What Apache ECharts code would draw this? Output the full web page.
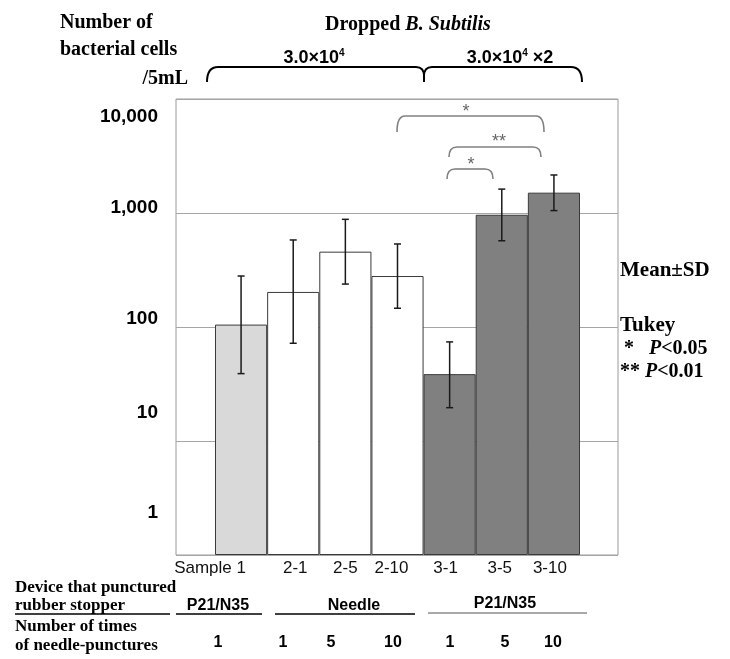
<!DOCTYPE html>
<html>
<head>
<meta charset="utf-8">
<script src="https://cdn.jsdelivr.net/npm/echarts@6/dist/echarts.min.js"></script>
<style>html,body{margin:0;padding:0;background:#fff;}#c{width:730px;height:659px;}</style>
</head>
<body>
<div id="c"></div>
<script>
// ---- data ----
const categories = ['Sample 1', '2-1', '2-5', '2-10', '3-1', '3-5', '3-10'];
const means = [105, 203, 458, 280, 38.6, 965, 1508];
const sdLow = [39, 72, 238, 146, 19.6, 571, 1050];
const sdHigh = [280, 580, 880, 535, 74, 1620, 2155];
const yTickLabels = ['1', '10', '100', '1,000', '10,000'];
const deviceRow = ['P21/N35', 'Needle', 'P21/N35'];
const punctureCounts = ['1', '1', '5', '10', '1', '5', '10'];

// ---- styles ----
const barFills = ['#d9d9d9', '#ffffff', '#ffffff', '#ffffff', '#808080', '#808080', '#808080'];
const catLabelShift = [-31, 2, 0, -6, -4, -2, -4];
const yLabelShift = { '1': -42, '10': -28, '100': -8, '1,000': -5, '10,000': 18 };
const SERIF = '"Liberation Serif", "Times New Roman", serif';
const SANS = '"Liberation Sans", Arial, sans-serif';

function fmt(v) {
  return String(Math.round(v)).replace(/\B(?=(\d{3})+(?!\d))/g, ',');
}
const yRich = {};
yTickLabels.forEach((t, i) => {
  const d = yLabelShift[t];
  yRich['y' + i] = {
    fontFamily: SANS, fontWeight: 'bold', fontSize: 19, color: '#000',
    padding: d > 0 ? [2 * d, 0, 0, 0] : [0, 0, -2 * d, 0]
  };
});
const xRich = {};
categories.forEach((c, i) => {
  const d = catLabelShift[i];
  xRich['x' + i] = {
    fontFamily: SANS, fontSize: 17, color: '#111',
    padding: d > 0 ? [0, 0, 0, 2 * d] : [0, -2 * d, 0, 0]
  };
});

const chart = echarts.init(document.getElementById('c'), null, { renderer: 'canvas' });

const serifText = (x, y, text, size, align) => ({
  type: 'text', x: x, y: y,
  style: { text: text, fontFamily: SERIF, fontWeight: 'bold', fontSize: size, fill: '#000',
           align: align || 'left', verticalAlign: 'middle' }
});
const sansText = (x, y, text, size, align) => ({
  type: 'text', x: x, y: y,
  style: { text: text, fontFamily: SANS, fontWeight: 'bold', fontSize: size, fill: '#000',
           align: align || 'center', verticalAlign: 'middle' }
});
const line = (x1, y1, x2, y2, w, c) => ({
  type: 'line', shape: { x1: x1, y1: y1, x2: x2, y2: y2 },
  style: { stroke: c || '#000', lineWidth: w || 1.5 }
});
const curve = (x1, y1, cx, cy, x2, y2, w, c) => ({
  type: 'bezierCurve', shape: { x1: x1, y1: y1, cpx1: cx, cpy1: cy, x2: x2, y2: y2 },
  style: { stroke: c || '#000', lineWidth: w || 1.5, fill: null }
});
const bracket = (x1, x2, yTop, yEnd) => [
  curve(x1, yEnd, x1, yTop, x1 + 8, yTop, 1.6, '#808080'),
  line(x1 + 8, yTop, x2 - 8, yTop, 1.6, '#808080'),
  curve(x2 - 8, yTop, x2, yTop, x2, yEnd, 1.6, '#808080')
];
const star = (x, y, t) => ({
  type: 'text', x: x, y: y,
  style: { text: t, fontFamily: SANS, fontSize: 18, fill: '#666', align: 'center', verticalAlign: 'middle' }
});

const graphics = [
  // top-left axis title
  serifText(60, 23, 'Number of', 20),
  serifText(60, 50, 'bacterial cells', 20),
  serifText(188, 79, '/5mL', 20, 'right'),
  // top title
  {
    type: 'text', x: 408, y: 25,
    style: {
      text: '{a|Dropped }{b|B. Subtilis}', align: 'center', verticalAlign: 'middle',
      rich: {
        a: { fontFamily: SERIF, fontWeight: 'bold', fontSize: 20, color: '#000' },
        b: { fontFamily: SERIF, fontWeight: 'bold', fontStyle: 'italic', fontSize: 20, color: '#000' }
      }
    }
  },
  // dose labels
  {
    type: 'text', x: 314, y: 58,
    style: {
      text: '{a|3.0×10}{s|4}', align: 'center', verticalAlign: 'middle',
      rich: {
        a: { fontFamily: SANS, fontWeight: 'bold', fontSize: 18, color: '#000' },
        s: { fontFamily: SANS, fontWeight: 'bold', fontSize: 10, color: '#000', padding: [0, 0, 10, 0] }
      }
    }
  },
  {
    type: 'text', x: 510, y: 58,
    style: {
      text: '{a|3.0×10}{s|4}{a| ×2}', align: 'center', verticalAlign: 'middle',
      rich: {
        a: { fontFamily: SANS, fontWeight: 'bold', fontSize: 18, color: '#000' },
        s: { fontFamily: SANS, fontWeight: 'bold', fontSize: 10, color: '#000', padding: [0, 0, 10, 0] }
      }
    }
  },
  // brace
  curve(207, 82, 207, 67, 218, 67, 2),
  line(218, 67, 416, 67, 2),
  curve(416, 67, 424, 67, 424, 76, 2),
  curve(424, 76, 424, 67, 432, 67, 2),
  line(432, 67, 571, 67, 2),
  curve(571, 67, 582, 67, 582, 82, 2),
  line(424, 75, 424, 82, 2),
  // significance brackets
  ...bracket(397, 544, 116, 132),
  star(466, 112, '*'),
  ...bracket(449, 541, 147, 157),
  star(499, 142, '**'),
  ...bracket(447, 493, 169, 179),
  star(471, 165, '*'),
  // right legend
  serifText(620, 271, 'Mean±SD', 21),
  serifText(620, 326, 'Tukey', 21),
  {
    type: 'text', x: 624, y: 349,
    style: {
      text: '{a|*   }{b|P}{a|<0.05}', verticalAlign: 'middle',
      rich: {
        a: { fontFamily: SERIF, fontWeight: 'bold', fontSize: 20, color: '#000' },
        b: { fontFamily: SERIF, fontWeight: 'bold', fontStyle: 'italic', fontSize: 20, color: '#000' }
      }
    }
  },
  {
    type: 'text', x: 620, y: 372,
    style: {
      text: '{a|** }{b|P}{a|<0.01}', verticalAlign: 'middle',
      rich: {
        a: { fontFamily: SERIF, fontWeight: 'bold', fontSize: 20, color: '#000' },
        b: { fontFamily: SERIF, fontWeight: 'bold', fontStyle: 'italic', fontSize: 20, color: '#000' }
      }
    }
  },
  // bottom table
  serifText(15, 588, 'Device that punctured', 17),
  serifText(15, 606, 'rubber stopper', 17),
  line(15, 614, 170, 614, 1.5),
  serifText(15, 627, 'Number of times', 17),
  serifText(15, 646, 'of needle-punctures', 17),
  sansText(218, 606, deviceRow[0], 16),
  line(176, 614, 262, 614, 1.5),
  sansText(354, 606, deviceRow[1], 16),
  line(275, 614, 415, 614, 1.5),
  sansText(505, 604, deviceRow[2], 16),
  line(428, 613, 587, 613, 1.2, '#555')
];
const numX = [218, 283, 331, 393, 450, 505, 553];
punctureCounts.forEach((t, i) => graphics.push(sansText(numX[i], 643, t, 16)));

const option = {
  animation: false,
  backgroundColor: '#fff',
  grid: [
    { left: 176, top: 99, width: 442, height: 456, show: true, borderColor: '#9a9a9a', borderWidth: 1, backgroundColor: 'transparent' },
    { left: 215, top: 99, width: 365, height: 456 }
  ],
  xAxis: [
    { gridIndex: 0, type: 'value', min: 0, max: 1, show: false },
    {
      gridIndex: 1, type: 'category', data: categories,
      axisLine: { show: false }, axisTick: { show: false },
      axisLabel: {
        margin: 5, interval: 0,
        formatter: (v, i) => `{x${i}|${v}}`,
        rich: xRich
      }
    }
  ],
  yAxis: [
    {
      gridIndex: 0, type: 'log', logBase: 10, min: 1, max: 10000,
      axisLine: { show: false }, axisTick: { show: false },
      splitLine: { show: true, lineStyle: { color: '#a6a6a6', width: 1 } },
      axisLabel: {
        margin: 18,
        formatter: (v) => {
          const t = fmt(v);
          const i = yTickLabels.indexOf(t);
          return `{y${i}|${t}}`;
        },
        rich: yRich
      }
    },
    { gridIndex: 1, type: 'log', logBase: 10, min: 1, max: 10000, show: false, splitLine: { show: false } }
  ],
  series: [
    {
      type: 'bar', xAxisIndex: 1, yAxisIndex: 1,
      barCategoryGap: 0, barWidth: '100%',
      data: means.map((v, i) => ({
        value: v,
        itemStyle: { color: barFills[i], borderColor: '#3a3a3a', borderWidth: 1 }
      })),
      z: 2
    },
    {
      type: 'custom', xAxisIndex: 1, yAxisIndex: 1, z: 3,
      data: categories.map((c, i) => [i, sdLow[i], sdHigh[i]]),
      encode: { x: 0, y: [1, 2] },
      renderItem: (params, api) => {
        const lo = api.coord([api.value(0), api.value(1)]);
        const hi = api.coord([api.value(0), api.value(2)]);
        const hw = 3.5;
        const st = { stroke: '#1a1a1a', lineWidth: 1.5 };
        return {
          type: 'group',
          children: [
            { type: 'line', shape: { x1: lo[0], y1: lo[1], x2: hi[0], y2: hi[1] }, style: st },
            { type: 'line', shape: { x1: hi[0] - hw, y1: hi[1], x2: hi[0] + hw, y2: hi[1] }, style: st },
            { type: 'line', shape: { x1: lo[0] - hw, y1: lo[1], x2: lo[0] + hw, y2: lo[1] }, style: st }
          ]
        };
      }
    }
  ],
  graphic: graphics
};
chart.setOption(option);
</script>
</body>
</html>
